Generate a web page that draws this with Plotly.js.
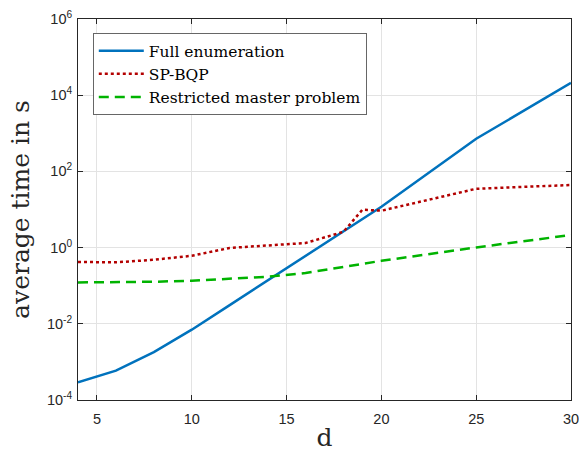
<!DOCTYPE html>
<html>
<head>
<meta charset="utf-8">
<script src="https://cdn.plot.ly/plotly-3.0.1.min.js"></script>
<style>html,body{margin:0;padding:0;background:#fff;}#chart{width:579px;height:452px;}</style>
</head>
<body>
<div id="chart"></div>
<script>
// dimension d
const d = [4, 6, 8, 10, 12, 14, 16, 18, 19, 20, 25, 30];
// average time in s
const fullEnumeration = [2.9e-4, 5.9e-4, 1.8e-3, 7.0e-3, 0.031, 0.137, 0.60, 2.6, 5.6, 11.8, 720, 2.1e4];
const spBQP = [0.42, 0.41, 0.48, 0.61, 0.98, 1.16, 1.32, 2.6, 9.9, 9.3, 35, 44];
const restrictedMaster = [0.122, 0.124, 0.127, 0.135, 0.15, 0.172, 0.215, 0.31, 0.38, 0.45, 1.01, 2.14];
const seriesNames = ['Full enumeration', 'SP-BQP', 'Restricted master problem'];
const xTickVals = [5, 10, 15, 20, 25, 30];
const yTickVals = [1e-4, 1e-2, 1, 1e2, 1e4, 1e6];
const yTickText = ['10<sup>-4</sup>', '10<sup>-2</sup>', '10<sup>0</sup>', '10<sup>2</sup>', '10<sup>4</sup>', '10<sup>6</sup>'];

const serif = 'DejaVu Serif, serif';
const traces = [
  {x: d, y: fullEnumeration, name: seriesNames[0], type: 'scatter', mode: 'lines',
   line: {color: '#0072BD', width: 2.5}},
  {x: d, y: spBQP, name: seriesNames[1], type: 'scatter', mode: 'lines',
   line: {color: '#B30000', width: 2.5, dash: 'dot'}},
  {x: d, y: restrictedMaster, name: seriesNames[2], type: 'scatter', mode: 'lines',
   line: {color: '#00B300', width: 2.5, dash: '10px,6px'}}
];

const axisCommon = {
  showline: true, linecolor: '#262626', linewidth: 1, mirror: 'ticks',
  ticks: 'inside', ticklen: 5, tickcolor: '#262626', tickwidth: 1,
  showgrid: true, gridcolor: '#e3e3e3', gridwidth: 1, zeroline: false,
  ticklabeloverflow: 'allow',
  tickfont: {family: 'Liberation Sans, Arial, sans-serif', size: 14.5, color: '#262626'}
};

const layout = {
  width: 579, height: 452,
  margin: {l: 78, r: 8, t: 19, b: 52, pad: 0},
  paper_bgcolor: '#fff', plot_bgcolor: '#fff',
  showlegend: true,
  legend: {
    x: 0.03, y: 0.963, xanchor: 'left', yanchor: 'top',
    bgcolor: '#fff', bordercolor: '#666', borderwidth: 1,
    font: {family: serif, size: 15.5, color: '#000'},
    itemwidth: 45, tracegroupgap: 0
  },
  xaxis: Object.assign({}, axisCommon, {
    range: [4, 30], tickmode: 'array', tickvals: xTickVals, ticklabelstandoff: 6,
    title: {text: 'd', font: {family: serif, size: 25, color: '#262626'}, standoff: 6}
  }),
  yaxis: Object.assign({}, axisCommon, {
    type: 'log', range: [-4, 6], tickmode: 'array', tickvals: yTickVals, ticktext: yTickText,
    ticklabelstandoff: 2,
    title: {text: 'average time in s', font: {family: serif, size: 25, color: '#262626'}, standoff: 10}
  })
};

Plotly.newPlot('chart', traces, layout, {displayModeBar: false, staticPlot: true});
</script>
</body>
</html>
